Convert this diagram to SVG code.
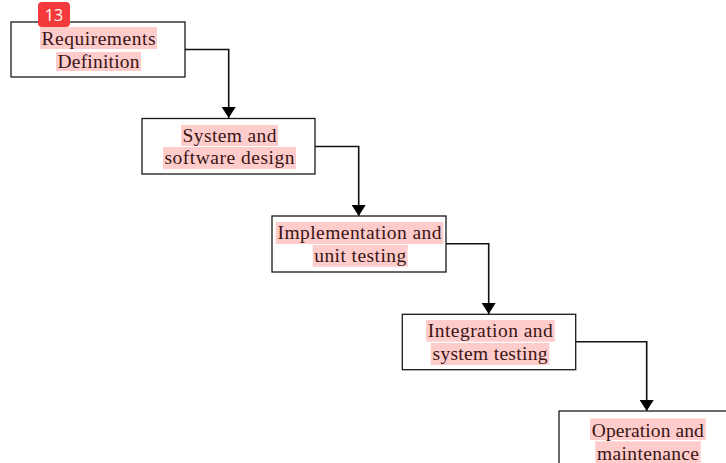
<svg xmlns="http://www.w3.org/2000/svg" width="726" height="463" viewBox="0 0 726 463">
<style>
.box{fill:#fff;stroke:#1a1a1a;stroke-width:1.3}
.hl{fill:#ffcccc}
.t{font-family:"Liberation Serif","Times New Roman",serif;font-size:19.5px;fill:#3a1414;text-anchor:middle}
.conn{fill:none;stroke:#111;stroke-width:1.6}
.badge{fill:#f43a3a}
.bt{font-family:"Open Sans","Noto Sans",sans-serif;font-size:16px;fill:#fff;text-anchor:middle}
</style>
<defs>
<marker id="arr" markerWidth="11" markerHeight="14" refX="11" refY="7" orient="auto" markerUnits="userSpaceOnUse" viewBox="0 0 11 14">
<path d="M0,0 L11,7 L0,14 Z" fill="#000"/>
</marker>
</defs>
<g id="connectors">
<path class="conn" d="M185,49.5 H228.7 V118" marker-end="url(#arr)"/>
<path class="conn" d="M315,146.5 H358.7 V216" marker-end="url(#arr)"/>
<path class="conn" d="M446,243.7 H488.7 V314" marker-end="url(#arr)"/>
<path class="conn" d="M576,341.7 H646.7 V411" marker-end="url(#arr)"/>
</g>
<g id="n1">
<rect class="box" x="11" y="22" width="174" height="55"/>
<rect class="hl" x="40" y="27" width="117" height="22"/>
<rect class="hl" x="56" y="52" width="85" height="19"/>
<text class="t" x="98.5" y="45" textLength="114" lengthAdjust="spacing">Requirements</text>
<text class="t" x="98.5" y="67.5" textLength="82" lengthAdjust="spacing">Definition</text>
</g>
<g id="n2">
<rect class="box" x="142" y="118.5" width="173" height="55.5"/>
<rect class="hl" x="181" y="125" width="97" height="21"/>
<rect class="hl" x="163" y="147" width="133" height="22"/>
<text class="t" x="229.5" y="141.5" textLength="94" lengthAdjust="spacing">System and</text>
<text class="t" x="229.5" y="164" textLength="130" lengthAdjust="spacing">software design</text>
</g>
<g id="n3">
<rect class="box" x="272" y="216" width="174" height="56"/>
<rect class="hl" x="275.7" y="222" width="167.6" height="22"/>
<rect class="hl" x="312.7" y="245" width="95" height="21.7"/>
<text class="t" x="359.5" y="239" textLength="164" lengthAdjust="spacing">Implementation and</text>
<text class="t" x="360.2" y="261.7" textLength="92" lengthAdjust="spacing">unit testing</text>
</g>
<g id="n4">
<rect class="box" x="402.3" y="314.3" width="173.4" height="55.4"/>
<rect class="hl" x="426" y="320" width="128.7" height="21.7"/>
<rect class="hl" x="430.7" y="343" width="118.6" height="22"/>
<text class="t" x="490.3" y="337" textLength="125" lengthAdjust="spacing">Integration and</text>
<text class="t" x="490" y="360" textLength="115" lengthAdjust="spacing">system testing</text>
</g>
<g id="n5">
<rect class="box" x="559" y="411" width="174" height="55"/>
<rect class="hl" x="590" y="418.3" width="115.7" height="21.7"/>
<rect class="hl" x="595.3" y="441.3" width="105.4" height="22"/>
<text class="t" x="647.8" y="437" textLength="112" lengthAdjust="spacing">Operation and</text>
<text class="t" x="648" y="459.5" textLength="102" lengthAdjust="spacing">maintenance</text>
</g>
<g id="badge">
<rect class="badge" x="38" y="2" width="32" height="25" rx="4"/>
<text class="bt" x="54" y="21">13</text>
</g>
</svg>
